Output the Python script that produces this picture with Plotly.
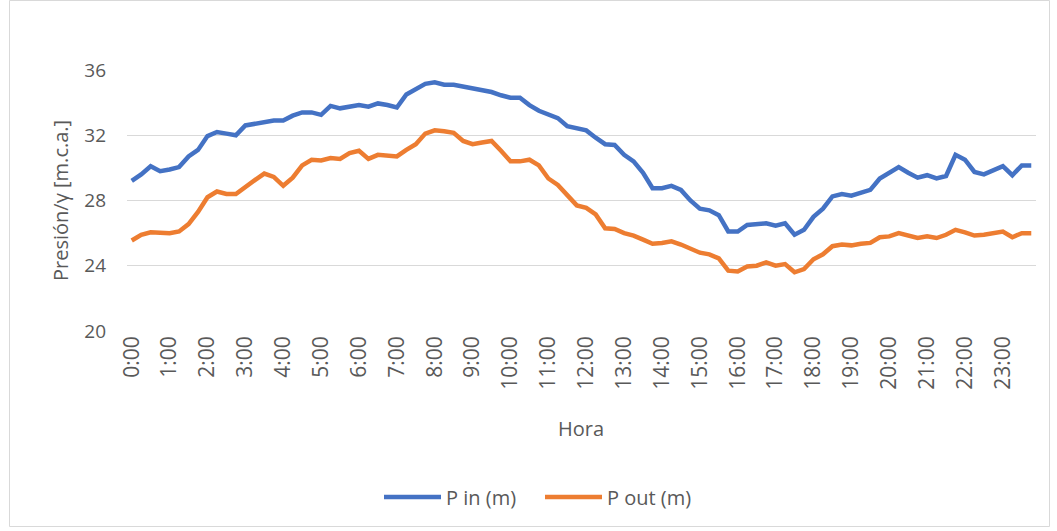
import plotly.graph_objects as go

# 15-minute time stamps for one day
horas = [f"{h}:{m:02d}" for h in range(24) for m in (0, 15, 30, 45)]
etiquetas_hora = [f"{h}:00" for h in range(24)]

p_in = [
    29.2, 29.6, 30.1, 29.8, 29.9, 30.05, 30.7, 31.1, 31.95, 32.2, 32.1, 32.0,
    32.6, 32.7, 32.75, 32.9, 32.9, 33.2, 33.4, 33.4, 33.25, 33.8, 33.65, 33.75,
    33.85, 33.75, 33.95, 33.85, 33.7, 34.5, 34.8, 35.15, 35.25, 35.1, 35.1, 35.0,
    34.9, 34.75, 34.65, 34.45, 34.3, 34.3, 33.85, 33.5, 33.3, 33.05, 32.55, 32.4,
    32.3, 31.85, 31.45, 31.4, 30.8, 30.4, 29.7, 28.75, 28.75, 28.9, 28.65, 28.0,
    27.5, 27.4, 27.1, 26.1, 26.1, 26.5, 26.55, 26.6, 26.45, 26.6, 25.9, 26.2,
    27.0, 27.5, 28.25, 28.4, 28.3, 28.45, 28.65, 29.35, 29.7, 30.05, 29.7, 29.4,
    29.55, 29.35, 29.5, 30.8, 30.5, 29.75, 29.6, 29.85, 30.1, 29.55, 30.15, 30.15,
]

p_out = [
    25.55, 25.9, 26.05, 26.05, 26.0, 26.1, 26.55, 27.3, 28.2, 28.55, 28.4, 28.4,
    28.85, 29.25, 29.65, 29.45, 28.9, 29.4, 30.15, 30.5, 30.45, 30.6, 30.55, 30.9,
    31.05, 30.55, 30.8, 30.75, 30.7, 31.1, 31.45, 32.1, 32.3, 32.25, 32.15, 31.65,
    31.45, 31.55, 31.65, 31.05, 30.4, 30.4, 30.5, 30.15, 29.35, 28.95, 28.35, 27.7,
    27.55, 27.15, 26.3, 26.25, 26.0, 25.85, 25.6, 25.35, 25.4, 25.5, 25.3, 25.05,
    24.8, 24.7, 24.45, 23.7, 23.65, 23.95, 24.0, 24.2, 24.0, 24.1, 23.6, 23.8,
    24.4, 24.7, 25.2, 25.3, 25.25, 25.35, 25.4, 25.75, 25.8, 26.0, 25.85, 25.7,
    25.8, 25.7, 25.9, 26.2, 26.05, 25.85, 25.9, 26.0, 26.1, 25.75, 26.0, 26.0,
]

W, H = 1057, 531
L, R, T, B = 127, 21, 70, 200
pw, ph = W - L - R, H - T - B


def px_x(x):
    return (x - L) / pw


def px_y(y):
    return (H - B - y) / ph


FONT = "Open Sans"
GRIS = "#595959"

fig = go.Figure()
fig.add_trace(go.Scatter(x=horas, y=p_in, mode="lines", name="P in (m)",
                         line=dict(color="#4472C4", width=4.5)))
fig.add_trace(go.Scatter(x=horas, y=p_out, mode="lines", name="P out (m)",
                         line=dict(color="#ED7D31", width=4.5)))

fig.update_layout(
    width=W, height=H,
    margin=dict(l=L, r=R, t=T, b=B),
    paper_bgcolor="white", plot_bgcolor="white",
    font=dict(family=FONT, color=GRIS, size=19),
    showlegend=True,
    legend=dict(orientation="h", x=px_x(540), xanchor="center",
                y=px_y(497), yanchor="middle",
                font=dict(size=20, color=GRIS), itemwidth=57,
                entrywidth=89, entrywidthmode="pixels"),
    xaxis=dict(
        type="category", range=[-0.5, len(horas) - 0.5],
        tickmode="array", tickvals=etiquetas_hora, ticktext=etiquetas_hora,
        tickangle=-90, showgrid=False, showline=False, ticks="",
        tickfont=dict(size=21, color=GRIS), automargin=False,
    ),
    yaxis=dict(
        range=[20, 36], tick0=20, dtick=4, showgrid=True,
        gridcolor="#D9D9D9", gridwidth=1.3, zeroline=False, showline=False,
        tickfont=dict(size=19, color=GRIS), ticklabelstandoff=20,
        automargin=False,
    ),
    annotations=[
        dict(text="Hora", xref="paper", yref="paper", x=px_x(581), y=px_y(428),
             showarrow=False, font=dict(size=20, color=GRIS),
             xanchor="center", yanchor="middle"),
        dict(text="Presión/γ [m.c.a.]", xref="paper", yref="paper",
             x=px_x(60), y=px_y(201), textangle=-90, showarrow=False,
             font=dict(size=20, color=GRIS), xanchor="center", yanchor="middle"),
    ],
    shapes=[
        dict(type="rect", xref="paper", yref="paper",
             x0=px_x(9.5), x1=px_x(1049.5), y0=px_y(526.5), y1=px_y(0.5),
             line=dict(color="#D9D9D9", width=1), layer="below"),
    ],
)

fig.write_html("out.html")
